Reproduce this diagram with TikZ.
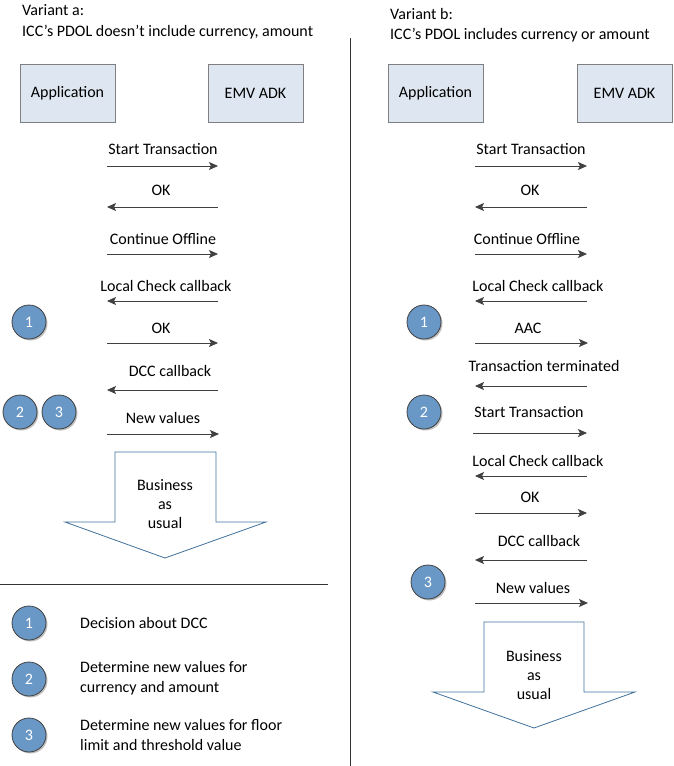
\documentclass[tikz,border=0pt]{standalone}
\usepackage{fontspec}
\setmainfont{Carlito}
\usetikzlibrary{arrows.meta,shadows}
\definecolor{boxfill}{HTML}{DEE7F1}
\definecolor{boxline}{HTML}{7F7F7F}
\definecolor{circfill}{HTML}{6A98C6}
\definecolor{circline}{HTML}{404040}
\definecolor{arrline}{HTML}{404040}
\definecolor{bigline}{HTML}{41719C}
\begin{document}
\begin{tikzpicture}[x=1pt,y=-1pt,font=\fontsize{16}{19}\selectfont,
  party/.style={draw=boxline,fill=boxfill,minimum width=95pt,minimum height=58pt,inner sep=0pt},
  msg/.style={inner sep=0pt,anchor=base},
  msgarrow/.style={draw=arrline,line width=0.8pt,-{Stealth[length=9pt,width=8pt,inset=2pt]}},
  num/.style={circle,draw=circline,fill=circfill,minimum size=34pt,inner sep=0pt,text=white,line width=0.8pt,
    drop shadow={shadow xshift=1.5pt,shadow yshift=-1.5pt,opacity=0.25,fill=black}},
  bigarrow/.style={draw=bigline,line width=0.8pt,fill=white},
  bigtext/.style={align=center,inner sep=0pt,font=\fontsize{16}{19}\selectfont},
  title/.style={align=left,anchor=west,inner sep=0pt,font=\fontsize{16}{20.5}\selectfont},
  legend/.style={align=left,anchor=west,inner sep=0pt,font=\fontsize{16}{20}\selectfont},
  divider/.style={draw=black!80,line width=0.8pt}]
\useasboundingbox (0,0) rectangle (674,766);

% ---------- dividers ----------
\coordinate (vt) at (350,38);
\coordinate (vb) at (350,766);
\draw[divider] (vt) -- (vb);
\coordinate (hl) at (0,584);
\coordinate (hr) at (328,584);
\draw[divider] (hl) -- (hr);

% ---------- Variant a ----------
\node[title] (ta) at (22,22) {Variant a:\\ICC’s PDOL doesn’t include currency, amount};
\node[party] (appA) at (67.5,93) {Application};
\node[party] (emvA) at (255.5,93) {EMV ADK};

\node[msg] (a1) at (163,154.5) {Start Transaction};
\coordinate (a1s) at (107,166); \coordinate (a1e) at (218,166);
\draw[msgarrow] (a1s) -- (a1e);
\node[msg] (a2) at (161,195.5) {OK};
\coordinate (a2s) at (218,207); \coordinate (a2e) at (107,207);
\draw[msgarrow] (a2s) -- (a2e);
\node[msg] (a3) at (163,244.5) {Continue Offline};
\coordinate (a3s) at (107,254); \coordinate (a3e) at (218,254);
\draw[msgarrow] (a3s) -- (a3e);
\node[msg] (a4) at (166,291.5) {Local Check callback};
\coordinate (a4s) at (218,301); \coordinate (a4e) at (107,301);
\draw[msgarrow] (a4s) -- (a4e);
\node[msg] (a5) at (161,333.5) {OK};
\coordinate (a5s) at (107,343); \coordinate (a5e) at (218,343);
\draw[msgarrow] (a5s) -- (a5e);
\node[msg] (a6) at (170,376.5) {DCC callback};
\coordinate (a6s) at (218,390); \coordinate (a6e) at (107,390);
\draw[msgarrow] (a6s) -- (a6e);
\node[msg] (a7) at (163,423.5) {New values};
\coordinate (a7s) at (107,434); \coordinate (a7e) at (219,434);
\draw[msgarrow] (a7s) -- (a7e);

\node[num] (ca1) at (29,322) {1};
\node[num] (ca2) at (20,412) {2};
\node[num] (ca3) at (59,412) {3};

\draw[bigarrow] (115,452) -- (216,452) -- (216,522) -- (266,522) -- (165,558) -- (65,522) -- (115,522) -- cycle;
\node[bigtext] (busA) at (165,504) {Business\\as\\usual};

% legend
\node[num] (l1) at (29,623) {1};
\node[legend] (lt1) at (80,623) {Decision about DCC};
\node[num] (l2) at (29,679) {2};
\node[legend] (lt2) at (80,678.5) {Determine new values for\\currency and amount};
\node[num] (l3) at (29,735) {3};
\node[legend] (lt3) at (80,735) {Determine new values for floor\\limit and threshold value};

% ---------- Variant b ----------
\node[title] (tb) at (390,25) {Variant b:\\ICC’s PDOL includes currency or amount};
\node[party] (appB) at (435.5,93) {Application};
\node[party] (emvB) at (624.5,93) {EMV ADK};

\node[msg] (b1) at (531,154.5) {Start Transaction};
\coordinate (b1s) at (475,166); \coordinate (b1e) at (587,166);
\draw[msgarrow] (b1s) -- (b1e);
\node[msg] (b2) at (530,195.5) {OK};
\coordinate (b2s) at (587,207); \coordinate (b2e) at (475,207);
\draw[msgarrow] (b2s) -- (b2e);
\node[msg] (b3) at (527,244.5) {Continue Offline};
\coordinate (b3s) at (475,254); \coordinate (b3e) at (587,254);
\draw[msgarrow] (b3s) -- (b3e);
\node[msg] (b4) at (538,291.5) {Local Check callback};
\coordinate (b4s) at (587,301); \coordinate (b4e) at (475,301);
\draw[msgarrow] (b4s) -- (b4e);
\node[msg] (b5) at (528,333.5) {AAC};
\coordinate (b5s) at (475,343); \coordinate (b5e) at (588,343);
\draw[msgarrow] (b5s) -- (b5e);
\node[msg] (b6) at (544,371.5) {Transaction terminated};
\coordinate (b6s) at (587,386); \coordinate (b6e) at (475,386);
\draw[msgarrow] (b6s) -- (b6e);
\node[msg] (b7) at (529,417.5) {Start Transaction};
\coordinate (b7s) at (473,433); \coordinate (b7e) at (587,433);
\draw[msgarrow] (b7s) -- (b7e);
\node[msg] (b8) at (538,466.5) {Local Check callback};
\coordinate (b8s) at (587,476); \coordinate (b8e) at (475,476);
\draw[msgarrow] (b8s) -- (b8e);
\node[msg] (b9) at (530,502.5) {OK};
\coordinate (b9s) at (475,513); \coordinate (b9e) at (587,513);
\draw[msgarrow] (b9s) -- (b9e);
\node[msg] (b10) at (539,546.5) {DCC callback};
\coordinate (b10s) at (587,560); \coordinate (b10e) at (475,560);
\draw[msgarrow] (b10s) -- (b10e);
\node[msg] (b11) at (533,593.5) {New values};
\coordinate (b11s) at (475,603); \coordinate (b11e) at (588,603);
\draw[msgarrow] (b11s) -- (b11e);

\node[num] (cb1) at (424,322) {1};
\node[num] (cb2) at (424,412) {2};
\node[num] (cb3) at (428,582) {3};

\draw[bigarrow] (484,622) -- (584,622) -- (584,692) -- (635,692) -- (534,728) -- (433,692) -- (484,692) -- cycle;
\node[bigtext] (busB) at (534,675) {Business\\as\\usual};
\end{tikzpicture}
\end{document}
